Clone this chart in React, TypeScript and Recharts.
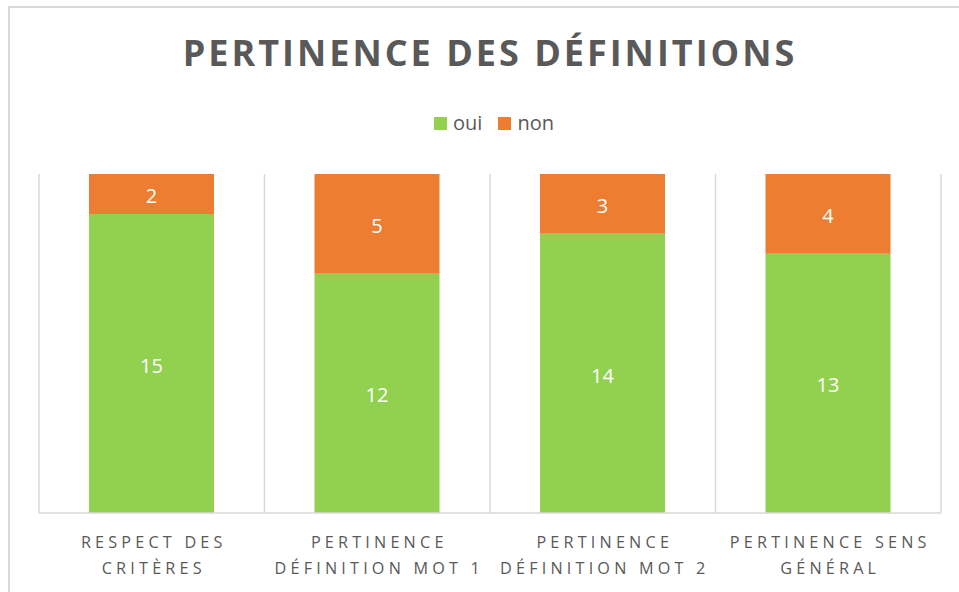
import React from 'react';
import { BarChart, Bar, XAxis, YAxis, CartesianGrid, LabelList } from 'recharts';

const categories = [
  'RESPECT DES\nCRITÈRES',
  'PERTINENCE\nDÉFINITION MOT 1',
  'PERTINENCE\nDÉFINITION MOT 2',
  'PERTINENCE SENS\nGÉNÉRAL',
];
const ouiValues = [15, 12, 14, 13];
const nonValues = [2, 5, 3, 4];

const SERIES = [
  { key: 'oui', color: '#92d050' },
  { key: 'non', color: '#ed7d31' },
];

const FONT = '"Open Sans", "Liberation Sans", sans-serif';
const TEXT = '#595959';

const data = categories.map((c, i) => ({ name: c, oui: ouiValues[i], non: nonValues[i] }));

const CategoryTick = (props: any) => {
  const { x, y, payload } = props;
  const lines = String(payload.value).split('\n');
  return (
    <text
      x={x}
      y={y}
      textAnchor="middle"
      fill={TEXT}
      fontFamily={FONT}
      fontSize={16.2}
      letterSpacing={4.2}
    >
      {lines.map((l, i) => (
        <tspan key={i} x={x + 2} dy={i === 0 ? 27 : 26}>
          {l}
        </tspan>
      ))}
    </text>
  );
};

export default function App() {
  return (
    <div
      style={{
        position: 'absolute',
        left: 0,
        top: 0,
        width: 959,
        height: 592,
        overflow: 'hidden',
        background: '#fff',
        fontFamily: FONT,
      }}
    >
      <div
        style={{
          position: 'absolute',
          left: 8,
          top: 6,
          width: 1000,
          height: 700,
          border: '2px solid #d9d9d9',
        }}
      />
      <div
        style={{
          position: 'absolute',
          left: 0,
          width: 980,
          top: 33,
          textAlign: 'center',
          fontSize: 36,
          fontWeight: 700,
          letterSpacing: 3,
          color: TEXT,
          lineHeight: '40px',
        }}
      >
        PERTINENCE DES DÉFINITIONS
      </div>
      <div
        style={{
          position: 'absolute',
          left: 0,
          width: 988,
          top: 110,
          display: 'flex',
          justifyContent: 'center',
          alignItems: 'center',
          fontSize: 20,
          color: TEXT,
          lineHeight: '26px',
        }}
      >
        {SERIES.map((s) => (
          <span key={s.key} style={{ display: 'flex', alignItems: 'center', margin: '0 8px' }}>
            <span style={{ width: 13, height: 13, background: s.color, marginRight: 6 }} />
            {s.key}
          </span>
        ))}
      </div>
      <div style={{ position: 'absolute', left: 0, top: 0 }}>
        <BarChart
          width={959}
          height={592}
          data={data}
          stackOffset="expand"
          margin={{ top: 174, right: 18, left: 39, bottom: 19 }}
        >
          <CartesianGrid
            horizontal={false}
            stroke="#d9d9d9"
            strokeWidth={1.5}
            verticalCoordinatesGenerator={({ offset }: any) =>
              categories.map((_, i) => offset.left + (i * offset.width) / categories.length).concat(offset.left + offset.width)
            }
          />
          <XAxis
            dataKey="name"
            height={60}
            tickLine={false}
            axisLine={{ stroke: '#d9d9d9', strokeWidth: 1.5 }}
            tick={<CategoryTick />}
            interval={0}
          />
          <YAxis hide />
          {SERIES.map((s) => (
            <Bar key={s.key} dataKey={s.key} stackId="a" fill={s.color} barSize={125} isAnimationActive={false}>
              <LabelList dataKey={s.key} position="center" fill="#fff" fontSize={20} fontFamily={FONT} dy={2} />
            </Bar>
          ))}
        </BarChart>
      </div>
    </div>
  );
}
